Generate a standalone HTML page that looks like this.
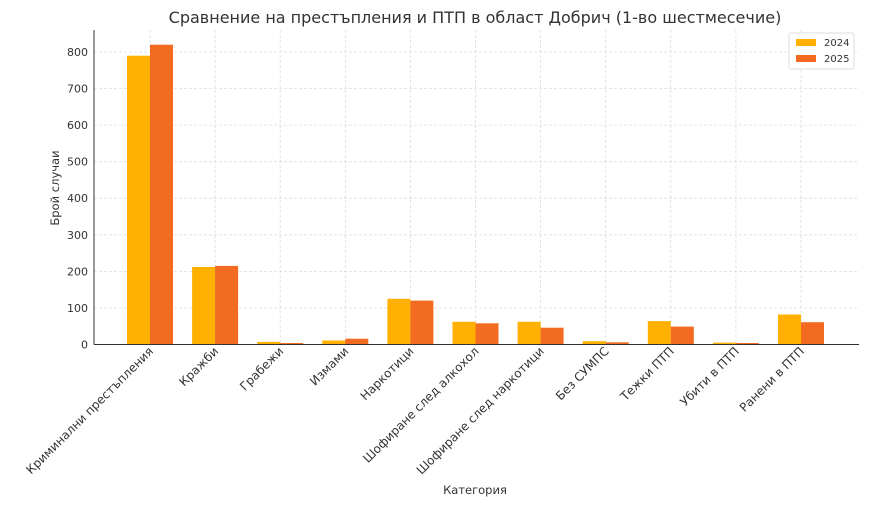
<!DOCTYPE html>
<html><head><meta charset="utf-8"><style>body{margin:0;background:#fff}svg{display:block;font-family:"DejaVu Sans","Liberation Sans",sans-serif}</style></head><body>
<svg width="870" height="508" viewBox="0 0 870 508">
<g stroke="#ddd" stroke-width="0.8" stroke-dasharray="3,2">
<line x1="94" x2="859" y1="52" y2="52"/><line x1="94" x2="859" y1="88.6" y2="88.6"/><line x1="94" x2="859" y1="125.1" y2="125.1"/><line x1="94" x2="859" y1="161.7" y2="161.7"/><line x1="94" x2="859" y1="198.2" y2="198.2"/><line x1="94" x2="859" y1="234.8" y2="234.8"/><line x1="94" x2="859" y1="271.4" y2="271.4"/><line x1="94" x2="859" y1="307.9" y2="307.9"/>
<line x1="150" x2="150" y1="30" y2="344"/><line x1="215.1" x2="215.1" y1="30" y2="344"/><line x1="280.2" x2="280.2" y1="30" y2="344"/><line x1="345.3" x2="345.3" y1="30" y2="344"/><line x1="410.4" x2="410.4" y1="30" y2="344"/><line x1="475.5" x2="475.5" y1="30" y2="344"/><line x1="540.6" x2="540.6" y1="30" y2="344"/><line x1="605.7" x2="605.7" y1="30" y2="344"/><line x1="670.8" x2="670.8" y1="30" y2="344"/><line x1="735.9" x2="735.9" y1="30" y2="344"/><line x1="801" x2="801" y1="30" y2="344"/>
</g>
<g fill="#FFB000">
<rect x="127" y="55.7" width="23" height="288.8"/>
<rect x="192.1" y="267" width="23" height="77.5"/>
<rect x="257.2" y="341.9" width="23" height="2.6"/>
<rect x="322.3" y="340.5" width="23" height="4"/>
<rect x="387.4" y="298.8" width="23" height="45.7"/>
<rect x="452.5" y="321.8" width="23" height="22.7"/>
<rect x="517.6" y="321.8" width="23" height="22.7"/>
<rect x="582.7" y="341.2" width="23" height="3.3"/>
<rect x="647.8" y="321.1" width="23" height="23.4"/>
<rect x="712.9" y="342.7" width="23" height="1.8"/>
<rect x="778" y="314.5" width="23" height="30"/>
</g>
<g fill="#F26B21">
<rect x="150" y="44.7" width="23" height="299.8"/>
<rect x="215.1" y="265.9" width="23" height="78.6"/>
<rect x="280.2" y="343" width="23" height="1.5"/>
<rect x="345.3" y="338.7" width="23" height="5.8"/>
<rect x="410.4" y="300.6" width="23" height="43.9"/>
<rect x="475.5" y="323.3" width="23" height="21.2"/>
<rect x="540.6" y="327.7" width="23" height="16.8"/>
<rect x="605.7" y="342.3" width="23" height="2.2"/>
<rect x="670.8" y="326.6" width="23" height="17.9"/>
<rect x="735.9" y="343" width="23" height="1.5"/>
<rect x="801" y="322.2" width="23" height="22.3"/>
</g>
<line x1="94" x2="94" y1="30" y2="344.5" stroke="#333" stroke-width="1"/>
<line x1="94" x2="859" y1="344.5" y2="344.5" stroke="#333" stroke-width="1"/>
<g font-size="11" fill="#333" text-anchor="end">
<text x="88" y="56">800</text><text x="88" y="92.6">700</text><text x="88" y="129.1">600</text><text x="88" y="165.7">500</text><text x="88" y="202.2">400</text><text x="88" y="238.8">300</text><text x="88" y="275.4">200</text><text x="88" y="311.9">100</text><text x="88" y="348.5">0</text>
</g>
<g font-size="12" fill="#333" text-anchor="end">
<text transform="translate(154,352) rotate(-45)">Криминални престъпления</text>
<text transform="translate(219.1,352) rotate(-45)">Кражби</text>
<text transform="translate(284.2,352) rotate(-45)">Грабежи</text>
<text transform="translate(349.3,352) rotate(-45)">Измами</text>
<text transform="translate(414.4,352) rotate(-45)">Наркотици</text>
<text transform="translate(479.5,352) rotate(-45)">Шофиране след алкохол</text>
<text transform="translate(544.6,352) rotate(-45)">Шофиране след наркотици</text>
<text transform="translate(609.7,352) rotate(-45)">Без СУМПС</text>
<text transform="translate(674.8,352) rotate(-45)">Тежки ПТП</text>
<text transform="translate(739.9,352) rotate(-45)">Убити в ПТП</text>
<text transform="translate(805,352) rotate(-45)">Ранени в ПТП</text>
</g>
<text x="475" y="23" font-size="16" fill="#333" text-anchor="middle">Сравнение на престъпления и ПТП в област Добрич (1-во шестмесечие)</text>
<text x="475" y="494" font-size="11.5" fill="#333" text-anchor="middle">Категория</text>
<text transform="translate(59,188) rotate(-90)" font-size="11.5" fill="#333" text-anchor="middle">Брой случаи</text>
<rect x="789" y="33" width="65" height="36" fill="#fff" stroke="#ddd" rx="2"/>
<rect x="796" y="39" width="20" height="7" fill="#FFB000"/><text x="824" y="46" font-size="10" fill="#333">2024</text>
<rect x="796" y="55" width="20" height="7" fill="#F26B21"/><text x="824" y="62" font-size="10" fill="#333">2025</text>
</svg>
</body></html>
